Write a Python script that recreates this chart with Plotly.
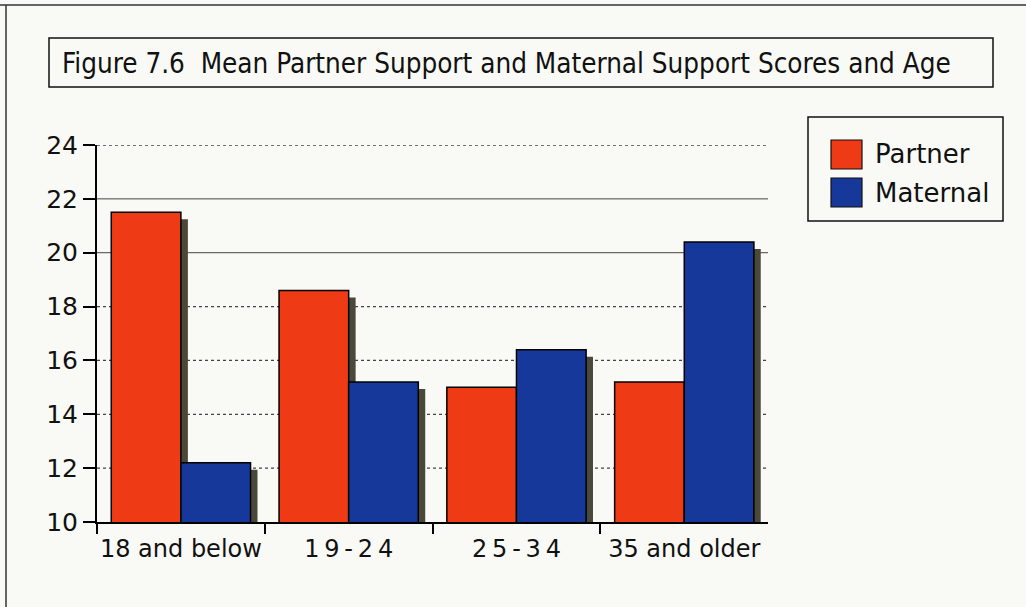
import plotly.graph_objects as go

# ---- data -------------------------------------------------------------
categories = ["18 and below", "19-24", "25-34", "35 and older"]
partner = [21.5, 18.6, 15.0, 15.2]
maternal = [12.2, 15.2, 16.4, 20.4]
series_names = ["Partner", "Maternal"]
y_ticks = [10, 12, 14, 16, 18, 20, 22, 24]
dotted_grid = [12, 14, 16, 18, 24]
solid_grid = [20, 22]
title_text = "Figure 7.6 \u00a0Mean Partner Support and Maternal Support Scores and Age"

# ---- styling ----------------------------------------------------------
W, H = 1026, 607
PL, PR, PT, PB = 97, 768, 145, 522          # plot-area edges in pixels
RED, BLUE, SHADOW = "#ee3a15", "#16389b", "#4a4839"
BG = "#f9faf5"
INK = "#111111"
FONT = "DejaVu Sans"
COND = "DejaVu Sans Condensed, Liberation Sans Narrow, DejaVu Sans"

x_range = [-0.5, len(categories) - 0.5]
y_range = [y_ticks[0], y_ticks[-1]]

# drop shadow offset (pixels) converted to axis units
SH_DX, SH_DY = 7, 7
dx_u = SH_DX * (x_range[1] - x_range[0]) / (PR - PL)
dy_u = SH_DY * (y_range[1] - y_range[0]) / (PB - PT)


def px(x):
    return (x - PL) / (PR - PL)


def py(y):
    return (PB - y) / (PB - PT)


def spaced(label):
    # numeric age ranges are set with extra letter spacing
    if label[0].isdigit() and "-" in label and " " not in label:
        return "\u2009".join(label)
    return label


fig = go.Figure()

# shadows live on the (shifted) base axes so they sit underneath the bars
for vals in (partner, maternal):
    fig.add_trace(go.Bar(
        x=categories, y=vals,
        marker=dict(color=SHADOW, line=dict(width=0)),
        xaxis="x", yaxis="y", hoverinfo="skip", showlegend=False,
    ))

# the visible bars on the overlaid axes
for name, vals, col in ((series_names[0], partner, RED), (series_names[1], maternal, BLUE)):
    fig.add_trace(go.Bar(
        x=categories, y=vals, name=name,
        marker=dict(color=col, line=dict(color="#000000", width=1.5)),
        xaxis="x2", yaxis="y2", showlegend=False,
    ))

shapes = []
# solid grid lines
for v in solid_grid:
    shapes.append(dict(type="line", xref="paper", yref="y2", x0=0, x1=1, y0=v, y1=v,
                       line=dict(color="#444444", width=1), layer="below"))
# dotted grid lines
for v in dotted_grid:
    shapes.append(dict(type="line", xref="paper", yref="y2", x0=0, x1=1, y0=v, y1=v,
                       line=dict(color="#444444", width=1.3, dash="dot"), layer="below"))

# page frame (top and left edges)
shapes.append(dict(type="line", xref="paper", yref="paper", x0=px(0), x1=px(W), y0=py(5), y1=py(5),
                   line=dict(color="#333333", width=1.5)))
shapes.append(dict(type="line", xref="paper", yref="paper", x0=px(6), x1=px(6), y0=py(5), y1=py(H),
                   line=dict(color="#333333", width=1.5)))
# title box
shapes.append(dict(type="rect", xref="paper", yref="paper", x0=px(49), x1=px(993), y0=py(87), y1=py(38),
                   line=dict(color="#111111", width=1.5), fillcolor="rgba(0,0,0,0)"))
# legend box and swatches
shapes.append(dict(type="rect", xref="paper", yref="paper", x0=px(808), x1=px(1003), y0=py(221), y1=py(117),
                   line=dict(color="#111111", width=1.5), fillcolor="rgba(0,0,0,0)"))
legend_rows = [(140, 169, RED), (178, 207, BLUE)]
for (t, b, col) in legend_rows:
    shapes.append(dict(type="rect", xref="paper", yref="paper", x0=px(831), x1=px(862), y0=py(b), y1=py(t),
                       line=dict(color="#111111", width=1.2), fillcolor=col))

annotations = [
    dict(text=title_text, xref="paper", yref="paper", x=px(60), y=py(63),
         xanchor="left", yanchor="middle", showarrow=False,
         font=dict(family=COND, size=27.6, color=INK)),
]
for name, (t, b, col) in zip(series_names, legend_rows):
    annotations.append(dict(text=name, xref="paper", yref="paper", x=px(873), y=py((t + b) / 2),
                            xanchor="left", yanchor="middle", showarrow=False,
                            font=dict(family=FONT, size=26, color=INK)))

fig.update_layout(
    width=W, height=H,
    margin=dict(l=PL, r=W - PR, t=PT, b=H - PB, pad=0),
    paper_bgcolor=BG, plot_bgcolor=BG,
    barmode="group", bargap=0.17, bargroupgap=0.0,
    showlegend=False,
    shapes=shapes, annotations=annotations,
    xaxis=dict(type="category", range=[x_range[0] - dx_u, x_range[1] - dx_u], visible=False,
               fixedrange=True),
    yaxis=dict(range=[y_range[0] + dy_u, y_range[1] + dy_u], visible=False, fixedrange=True),
    xaxis2=dict(type="category", overlaying="x", anchor="y2", side="bottom",
                range=[x_range[0], x_range[1] - 0.001],
                tickmode="array", tickvals=categories,
                ticktext=[spaced(c) for c in categories],
                tickangle=0, automargin=False,
                tickson="boundaries", ticks="outside", ticklen=10,
                tickwidth=2, tickcolor="#000000", showline=True, linewidth=2,
                linecolor="#000000", showgrid=False, zeroline=False,
                ticklabelstandoff=4,
                tickfont=dict(family=FONT, size=24, color=INK), fixedrange=True),
    yaxis2=dict(overlaying="y", anchor="x2", side="left", range=y_range,
                tickvals=y_ticks, ticks="outside", ticklen=12, tickwidth=2,
                tickcolor="#000000", showline=True, linewidth=2, linecolor="#000000",
                showgrid=False, zeroline=False, automargin=False,
                tickfont=dict(family=FONT, size=25, color=INK), fixedrange=True),
)

fig.write_html("out.html")
